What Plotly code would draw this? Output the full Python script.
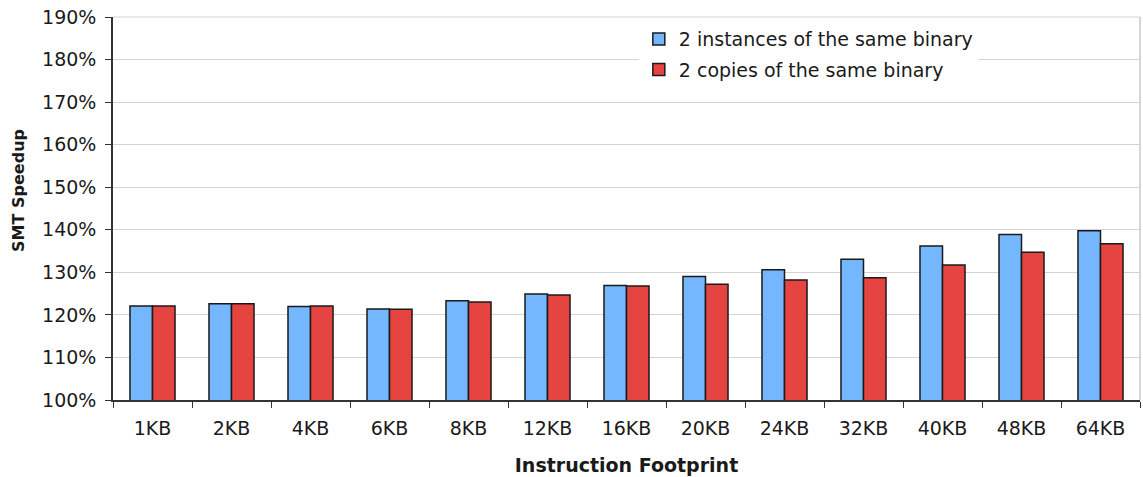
import plotly.graph_objects as go

categories = ["1KB", "2KB", "4KB", "6KB", "8KB", "12KB", "16KB", "20KB", "24KB", "32KB", "40KB", "48KB", "64KB"]
instances = [122.1, 122.6, 122.0, 121.4, 123.3, 124.9, 126.9, 129.0, 130.6, 133.1, 136.2, 138.9, 139.8]
copies = [122.1, 122.6, 122.1, 121.3, 123.0, 124.7, 126.8, 127.2, 128.2, 128.7, 131.7, 134.7, 136.7]
y_ticks = [100, 110, 120, 130, 140, 150, 160, 170, 180, 190]

FONT = "Verdana, DejaVu Sans, sans-serif"

fig = go.Figure()
fig.add_trace(go.Bar(x=categories, y=instances, name="2 instances of the same binary", legendgroup="a",
                     marker=dict(color="#74b7ff", line=dict(color="#1a1a1a", width=1.5))))
fig.add_trace(go.Bar(x=categories, y=copies, name="2 copies of the same binary", legendgroup="b",
                     marker=dict(color="#e64440", line=dict(color="#1a1a1a", width=1.5))))

fig.update_layout(
    width=1143, height=477,
    margin=dict(l=113, r=3, t=17, b=77),
    paper_bgcolor="white", plot_bgcolor="white",
    font=dict(family=FONT, size=19, color="#1a1a1a"),
    barmode="group", bargap=0.43, bargroupgap=0,
    showlegend=True,
    legend=dict(x=0.512, y=0.992, xanchor="left", yanchor="top",
                bgcolor="white", borderwidth=0, font=dict(size=19, family=FONT),
                itemwidth=30, tracegroupgap=3),
    xaxis=dict(
        title=dict(text="<b>Instruction Footprint</b>", font=dict(size=19), standoff=21),
        showline=True, linecolor="#333333", linewidth=1.5,
        ticks="outside", tickson="boundaries", ticklen=6, tickcolor="#333333",
        ticklabelstandoff=10,
        showgrid=False, automargin=False,
    ),
    yaxis=dict(
        range=[100, 190], tickvals=y_ticks, ticktext=[f"{v}%" for v in y_ticks],
        showline=True, linecolor="#333333", linewidth=1.5,
        ticks="outside", ticklen=6, tickcolor="#333333", ticklabelstandoff=5,
        ticklabeloverflow="allow",
        showgrid=True, gridcolor="#d4d4d4", gridwidth=1, zeroline=False,
        automargin=False,
    ),
)
# y-axis title placed as in the reference (slightly above centre)
fig.add_annotation(text="<b>SMT Speedup</b>", textangle=-90, showarrow=False,
                   xref="paper", yref="paper", x=-0.0915, y=0.546,
                   xanchor="center", yanchor="middle", font=dict(size=16, family=FONT))
# top and right border of plot area
fig.add_shape(type="line", xref="paper", yref="paper", x0=0, x1=1, y0=1, y1=1,
              line=dict(color="#d4d4d4", width=1), layer="below")
fig.add_shape(type="line", xref="paper", yref="paper", x0=1, x1=1, y0=0, y1=1,
              line=dict(color="#c8c8c8", width=1.5))

fig.write_html("out.html",
               config={"displayModeBar": False},
               post_script="document.body.style.margin='0';document.body.style.overflow='hidden';")
